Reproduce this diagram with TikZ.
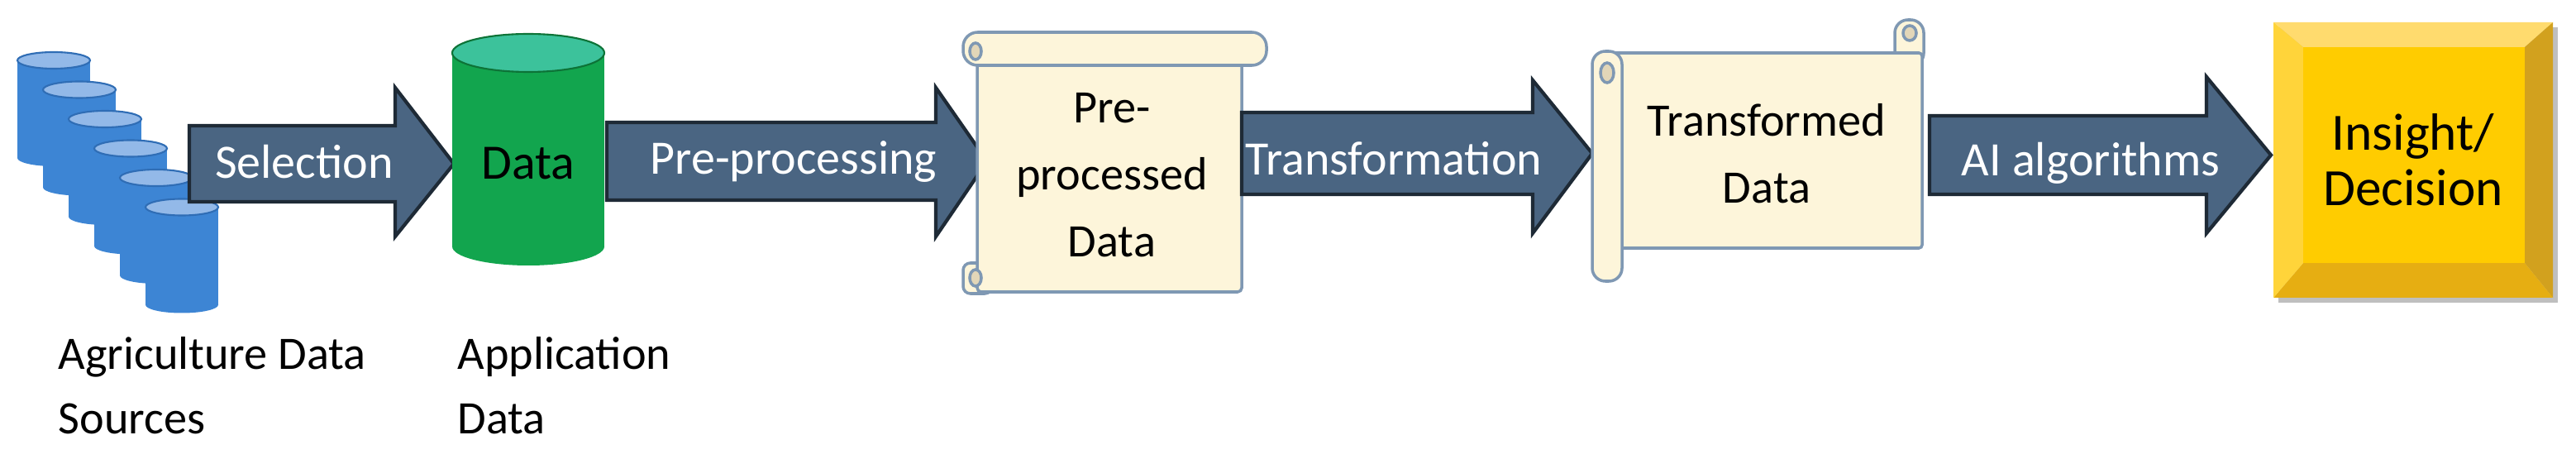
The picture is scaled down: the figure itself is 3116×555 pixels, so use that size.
\documentclass[tikz,border=0pt]{standalone}
\usepackage{fontspec}
\setmainfont{Carlito}
\definecolor{arw}{HTML}{4A6582}
\definecolor{arwd}{HTML}{1E2A36}
\definecolor{cylb}{HTML}{3D85D4}
\definecolor{cylt}{HTML}{93B9E8}
\definecolor{cylo}{HTML}{2F6DB5}
\definecolor{grn}{HTML}{12A54E}
\definecolor{grnt}{HTML}{3CC29B}
\definecolor{scr}{HTML}{FDF5DA}
\definecolor{scro}{HTML}{7F98B3}
\definecolor{scrd}{HTML}{E2D6B8}
\definecolor{yel}{HTML}{FFCC00}
\definecolor{yelt}{HTML}{FFDB6E}
\definecolor{yelr}{HTML}{D2A11E}
\definecolor{yelb}{HTML}{E6AE12}
\definecolor{yell}{HTML}{FFD43A}
\tikzset{
  arrowlbl/.style={text=white,font=\fontsize{16.5}{20}\selectfont},
  boxlbl/.style={text=black,font=\fontsize{16}{23}\selectfont,align=center},
  undlbl/.style={text=black,font=\fontsize{16}{22}\selectfont,align=left,anchor=north west,inner sep=0pt},
  blk/.style={fill=arw,draw=arwd,line width=1.2pt,line join=miter},
}
% block arrow: x0 x1 tip ytop ybot htop hbot
\newcommand{\blockarr}[7]{%
  \draw[blk] (#1,#4) -- (#2,#4) -- (#2,#6) -- (#3,{(#4+#5)/2}) -- (#2,#7) -- (#2,#5) -- (#1,#5) -- cycle;}
\newcommand{\bluecyl}[2]{%
  \fill[cylb] (#1,#2) rectangle ++(88,118);
  \fill[cylb] (#1+44,#2+118) ellipse [x radius=44,y radius=10];
  \filldraw[fill=cylt,draw=cylo,line width=0.6pt] (#1+44,#2) ellipse [x radius=44,y radius=10];}
\begin{document}
\begin{tikzpicture}[x=0.01cm,y=-0.01cm]
\useasboundingbox (0,0) rectangle (3116,555);
\fill[white] (0,0) rectangle (3116,555);
% blue cylinders
\foreach \i in {0,...,5}{ \bluecyl{21+31*\i}{73+35.5*\i} }
% selection arrow
\blockarr{229}{478}{549}{152}{244}{106}{286}
\node[arrowlbl] (sel) at (368,196) {Selection};
% green cylinder
\fill[grn] (547,64) rectangle (731,298);
\fill[grn] (639,298) ellipse [x radius=92,y radius=23];
\filldraw[fill=grnt,draw=grn!70!black,line width=0.6pt] (639,64) ellipse [x radius=92,y radius=23];
\node[text=black,font=\fontsize{17}{20}\selectfont] (data) at (639,198) {Data};
% pre-processing arrow
\blockarr{734}{1132}{1194}{148}{242}{106}{286}
\node[arrowlbl] (pre) at (960,196) {Pre-processing};
% scroll 1
\begin{scope}[draw=scro,line width=1pt]
\filldraw[fill=scr,rounded corners=2.5pt] (1165,318) rectangle (1200,355);
\filldraw[fill=scr,rounded corners=1.4pt] (1182,60) rectangle (1502,353);
\filldraw[fill=scr,rounded corners=5pt] (1165,39) rectangle (1532,79);
\filldraw[fill=scrd] (1180,62) ellipse [x radius=7,y radius=10];
\filldraw[fill=scrd] (1180,336) ellipse [x radius=7,y radius=10];
\end{scope}
\node[boxlbl] (ppd) at (1345,212) {Pre-\\processed\\Data};
% transformation arrow
\blockarr{1502}{1854}{1926}{136}{235}{97}{282}
\node[arrowlbl] (tr) at (1686,192) {Transformation};
% scroll 2
\begin{scope}[draw=scro,line width=1pt]
\filldraw[fill=scr,rounded corners=4.5pt] (2292,24) rectangle (2327,80);
\filldraw[fill=scr,rounded corners=1.1pt] (1945,64) rectangle (2325,300);
\filldraw[fill=scr,rounded corners=4.5pt] (1926,62) rectangle (1962,340);
\filldraw[fill=scrd] (1944,88) ellipse [x radius=8,y radius=12];
\filldraw[fill=scrd] (2310,40) ellipse [x radius=8,y radius=9];
\end{scope}
\node[boxlbl] (tdd) at (2137,186) {Transformed\\Data};
% AI arrow
\blockarr{2334}{2669}{2747}{140}{235}{93}{282}
\node[arrowlbl] (ai) at (2529,197) {AI algorithms};
% yellow bevel box
\fill[black!25] (2756,33) rectangle (3094,366);
\fill[yelt] (2750,27) -- (3088,27) -- (3054,57) -- (2786,57) -- cycle;
\fill[yelr] (3088,27) -- (3088,360) -- (3054,318) -- (3054,57) -- cycle;
\fill[yelb] (2750,360) -- (3088,360) -- (3054,318) -- (2786,318) -- cycle;
\fill[yell] (2750,27) -- (2786,57) -- (2786,318) -- (2750,360) -- cycle;
\fill[yel] (2786,57) rectangle (3054,318);
\node[text=black,font=\fontsize{18}{19}\selectfont,align=center] (ins) at (2919,193) {Insight/\\Decision};
% under labels
\node[undlbl] (ads) at (70,407) {Agriculture Data\\Sources};
\node[undlbl] (apd) at (553,407) {Application\\Data};
\end{tikzpicture}
\end{document}
